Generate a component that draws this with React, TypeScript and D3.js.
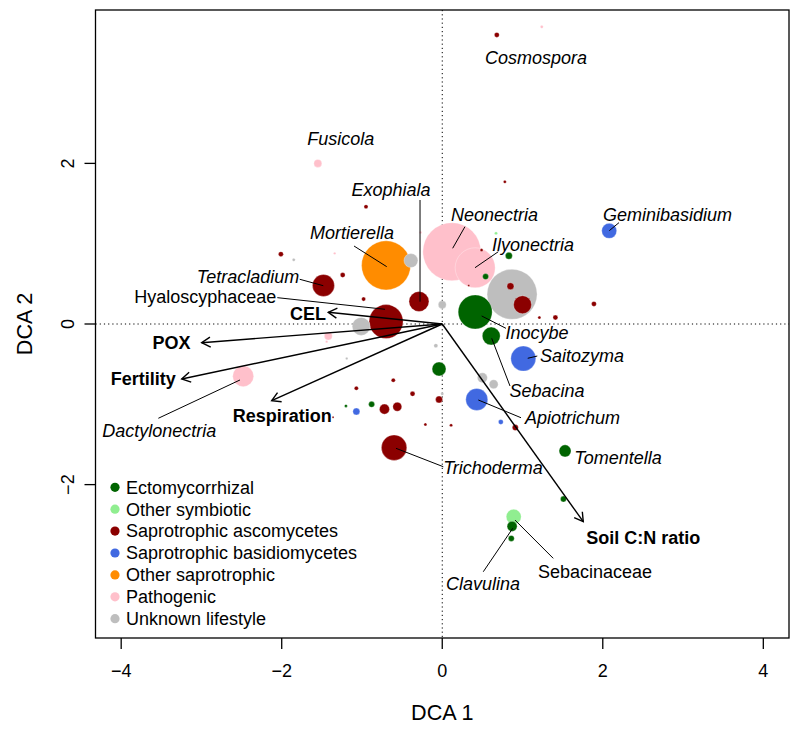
import React from 'react'
import * as d3 from 'd3'

const GUILDS = [
  'Ectomycorrhizal',
  'Other symbiotic',
  'Saprotrophic ascomycetes',
  'Saprotrophic basidiomycetes',
  'Other saprotrophic',
  'Pathogenic',
  'Unknown lifestyle',
]
const GUILD_COLORS = ['#006400', '#90EE90', '#8B0000', '#4169E1', '#FF8C00', '#FFC0CB', '#BEBEBE']

// taxon scores on the DCA axes, guild index and relative abundance
const dca1 = [-1.55, -0.95, -2.01, -1.85, -1.34, -0.27, -1.24, -0.98, -1.48, -0.70, -0.39, -0.29, 0.00, -0.70, -1.01, -1.42, -1.44, -2.48, -1.19, -0.61, -1.07, -0.37, -0.04, -0.08, 0.00, -0.04, -1.20, -1.07, -0.88, -0.72, -0.56, -1.36, -0.21, 0.11, -0.60, 0.68, 1.24, 0.78, 2.08, 0.12, 0.41, 0.49, 0.67, 0.83, 0.54, 0.33, 0.87, 0.85, 1.00, 1.89, 1.21, 1.41, 0.41, 0.61, 1.01, 0.50, 0.64, 0.43, 0.73, 0.91, 1.53, 1.51, 0.89, 0.87, 0.86]
const dca2 = [2.00, 1.46, 0.87, 0.80, 0.88, 1.14, 0.61, 0.31, 0.48, 0.73, 0.79, 0.28, 0.24, 0.03, -0.03, -0.15, -0.22, -0.65, -0.43, -0.70, -0.80, -0.87, -0.56, -0.27, -0.87, -0.94, -1.02, -1.09, -1.00, -1.06, -1.03, -1.16, -1.25, -1.26, -1.54, 3.60, 3.70, 1.77, 1.16, 0.90, 0.70, 0.92, 1.13, 0.85, 0.59, 0.48, 0.37, 0.47, 0.24, 0.25, 0.08, 0.08, 0.15, -0.15, -0.43, -0.67, -0.75, -0.94, -1.22, -1.29, -1.58, -2.18, -2.40, -2.52, -2.67]
const guild = [5, 2, 2, 6, 5, 5, 2, 2, 2, 4, 6, 2, 6, 2, 6, 5, 5, 5, 6, 2, 2, 2, 0, 6, 6, 2, 0, 3, 0, 2, 2, 2, 2, 2, 2, 2, 5, 2, 3, 5, 5, 2, 1, 0, 0, 2, 6, 2, 2, 2, 2, 2, 0, 0, 3, 6, 6, 3, 3, 2, 0, 0, 1, 0, 0]
const abund = [1.9, 0.5, 0.74, 0.27, 0.17, 0.17, 0.74, 0.5, 14.4, 71.4, 5.8, 11.9, 1.9, 34.4, 9.6, 1.9, 0.17, 13.1, 0.17, 0.5, 0.5, 0.74, 5.8, 0.5, 0.27, 1.46, 0.27, 1.46, 1.07, 3.0, 2.4, 0.12, 0.27, 0.27, 19.2, 0.74, 0.27, 0.27, 6.7, 100, 47.6, 0.27, 0.27, 1.46, 1.07, 0.12, 74.3, 1.46, 9.6, 0.74, 0.27, 0.74, 34.4, 9.6, 18.6, 3.0, 2.4, 14.4, 0.74, 1.07, 4.3, 1.07, 6.7, 3.0, 1.07]

// taxon labels: text position and leader line (DCA units)
const taxonLabels = [
  { name: 'Cosmospora', tx: 1.168, ty: 3.319, italic: true },
  { name: 'Fusicola', tx: -1.264, ty: 2.304, italic: true },
  { name: 'Exophiala', tx: -0.638, ty: 1.669, italic: true, line: [-0.277, 1.544, -0.277, 0.278] },
  { name: 'Mortierella', tx: -1.124, ty: 1.133, italic: true, line: [-1.099, 0.971, -0.692, 0.714] },
  { name: 'Tetracladium', tx: -2.42, ty: 0.589, italic: true, line: [-1.776, 0.557, -1.482, 0.477] },
  { name: 'Hyaloscyphaceae', tx: -2.952, ty: 0.336, italic: false, line: [-2.055, 0.328, -0.713, 0.183] },
  { name: 'Neonectria', tx: 0.651, ty: 1.357, italic: true, line: [0.283, 1.212, 0.13, 0.943] },
  { name: 'Ilyonectria', tx: 1.131, ty: 0.99, italic: true, line: [0.698, 0.9, 0.408, 0.701] },
  { name: 'Geminibasidium', tx: 2.806, ty: 1.357, italic: true, line: [2.202, 1.262, 2.081, 1.162] },
  { name: 'Inocybe', tx: 1.18, ty: -0.112, italic: true, line: [0.794, -0.054, 0.491, 0.1] },
  { name: 'Saitozyma', tx: 1.741, ty: -0.399, italic: true, line: [1.184, -0.399, 1.065, -0.427] },
  { name: 'Sebacina', tx: 1.305, ty: -0.828, italic: true, line: [0.844, -0.772, 0.616, -0.178] },
  { name: 'Apiotrichum', tx: 1.623, ty: -1.171, italic: true, line: [0.981, -1.167, 0.449, -0.946] },
  { name: 'Trichoderma', tx: 0.632, ty: -1.793, italic: true, line: [0.013, -1.777, -0.576, -1.548] },
  { name: 'Tomentella', tx: 2.19, ty: -1.669, italic: true },
  { name: 'Dactylonectria', tx: -3.525, ty: -1.333, italic: true, line: [-3.537, -1.174, -2.52, -0.697] },
  { name: 'Clavulina', tx: 0.508, ty: -3.238, italic: true, line: [0.511, -3.085, 0.878, -2.544] },
  { name: 'Sebacinaceae', tx: 1.903, ty: -3.085, italic: false, line: [1.383, -2.918, 0.906, -2.441] },
]

// environmental vectors
const envNames = ['CEL', 'POX', 'Fertility', 'Respiration', 'Soil C:N ratio']
const envX = [-1.42, -2.997, -3.246, -2.125, 1.757]
const envY = [0.146, -0.233, -0.685, -0.955, -2.462]
const envLabelX = [-1.672, -3.373, -3.724, -1.993, 2.505]
const envLabelY = [0.131, -0.23, -0.685, -1.139, -2.665]

const xTicks = [-4, -2, 0, 2, 4]
const yTicks = [-2, 0, 2]

const FONT = '"Liberation Sans", Arial, sans-serif'

export default function App() {
  const W = 800, H = 731
  const left = 95.5, right = 789, top = 10, bottom = 638

  const x = d3.scaleLinear().domain([-4.32, 4.32]).range([left, right])
  const y = d3.scaleLinear().domain([3.91, -3.91]).range([top, bottom])
  const r = d3.scaleSqrt().domain([0, 100]).range([0, 29])

  const pts = dca1.map((d, i) => ({ x: d, y: dca2[i], g: guild[i], a: abund[i] }))
    .sort((a, b) => b.a - a.a)

  const fmt = (v: number) => (v < 0 ? '\u2212' + Math.abs(v) : String(v))

  const arrowHead = (x0: number, y0: number, x1: number, y1: number) => {
    const ang = Math.atan2(y1 - y0, x1 - x0)
    const len = 10, spread = Math.PI / 6
    const a1 = ang + Math.PI - spread, a2 = ang + Math.PI + spread
    return `M${x1 + len * Math.cos(a1)},${y1 + len * Math.sin(a1)}L${x1},${y1}L${x1 + len * Math.cos(a2)},${y1 + len * Math.sin(a2)}`
  }

  return (
    <div style={{ position: 'absolute', left: 0, top: 0 }}>
      <svg width={W} height={H} style={{ display: 'block', fontFamily: FONT }}>
        <rect width={W} height={H} fill="white" />

        {/* reference lines */}
        <line x1={x(0)} x2={x(0)} y1={top} y2={bottom} stroke="black" strokeWidth={1} strokeDasharray="1.2,3" />
        <line x1={left} x2={right} y1={y(0)} y2={y(0)} stroke="black" strokeWidth={1} strokeDasharray="1.2,3" />

        {/* taxa */}
        {pts.map((p, i) => (
          <circle key={i} cx={x(p.x)} cy={y(p.y)} r={r(p.a)} fill={GUILD_COLORS[p.g]}
            stroke="white" strokeOpacity={0.5} strokeWidth={0.6} />
        ))}

        {/* leader lines and labels */}
        {taxonLabels.map(l => (
          <g key={l.name}>
            {l.line && (
              <line x1={x(l.line[0])} y1={y(l.line[1])} x2={x(l.line[2])} y2={y(l.line[3])}
                stroke="black" strokeWidth={1} />
            )}
            <text x={x(l.tx)} y={y(l.ty)} dy="0.35em" textAnchor="middle" fontSize={18}
              fontStyle={l.italic ? 'italic' : 'normal'} fill="black">{l.name}</text>
          </g>
        ))}

        {/* environmental arrows */}
        {envNames.map((n, i) => {
          const x1 = x(envX[i]), y1 = y(envY[i])
          return (
            <g key={n}>
              <line x1={x(0)} y1={y(0)} x2={x1} y2={y1} stroke="black" strokeWidth={1.4} />
              <path d={arrowHead(x(0), y(0), x1, y1)} fill="none" stroke="black" strokeWidth={1.4} />
              <text x={x(envLabelX[i])} y={y(envLabelY[i])} dy="0.35em" textAnchor="middle"
                fontSize={18} fontWeight="bold">{n}</text>
            </g>
          )
        })}

        {/* box */}
        <rect x={left} y={top} width={right - left} height={bottom - top} fill="none" stroke="black" strokeWidth={1.3} />

        {/* x axis */}
        {xTicks.map(t => (
          <g key={'x' + t}>
            <line x1={x(t)} x2={x(t)} y1={bottom} y2={bottom + 11} stroke="black" strokeWidth={1.3} />
            <text x={x(t)} y={677} textAnchor="middle" fontSize={18}>{fmt(t)}</text>
          </g>
        ))}
        {/* y axis */}
        {yTicks.map(t => (
          <g key={'y' + t}>
            <line x1={left - 11} x2={left} y1={y(t)} y2={y(t)} stroke="black" strokeWidth={1.3} />
            <text transform={`translate(74,${y(t)}) rotate(-90)`} textAnchor="middle" fontSize={18}>{fmt(t)}</text>
          </g>
        ))}
        <text x={x(0)} y={720} textAnchor="middle" fontSize={21.6}>DCA 1</text>
        <text transform={`translate(32,${y(0)}) rotate(-90)`} textAnchor="middle" fontSize={21.6}>DCA 2</text>

        {/* legend */}
        {GUILDS.map((g, i) => {
          const ly = 487.3 + i * 21.9
          return (
            <g key={g}>
              <circle cx={115} cy={ly} r={4.6} fill={GUILD_COLORS[i]} />
              <text x={126} y={ly} dy="0.35em" fontSize={18}>{g}</text>
            </g>
          )
        })}
      </svg>
    </div>
  )
}
